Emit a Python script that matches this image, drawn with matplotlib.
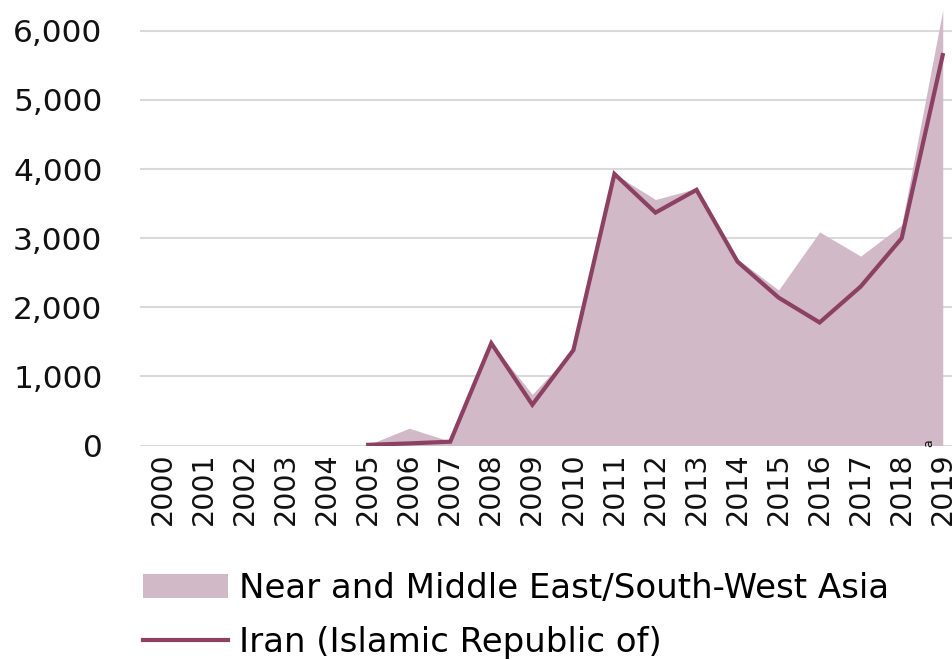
import matplotlib
matplotlib.use("Agg")
import matplotlib.pyplot as plt
import numpy as np

years = [str(y) for y in range(2000, 2020)]

# values start in 2005; earlier years have no data
region_years = years[5:]
region = [10, 250, 60, 1480, 740, 1380, 3930, 3560, 3720, 2700,
          2250, 3090, 2740, 3190, 6300]
iran = [10, 30, 55, 1480, 590, 1380, 3930, 3370, 3700, 2660,
        2140, 1780, 2300, 3000, 5650]

yticks = [0, 1000, 2000, 3000, 4000, 5000, 6000]

fill_color = "#d1b9c7"
line_color = "#8c4163"

fig = plt.figure(figsize=(9.53, 6.6), dpi=100)
ax = fig.add_axes([0.1469, 0.325, 0.8531, 0.675])

x_all = np.arange(len(years))
x_data = x_all[5:]

ax.fill_between(x_data, region, 0, color=fill_color, linewidth=0, zorder=2,
                label="Near and Middle East/South-West Asia")
ax.plot(x_data, iran, color=line_color, linewidth=3.0, zorder=3,
        solid_joinstyle="miter", label="Iran (Islamic Republic of)")

ax.set_xlim(-0.56, 19.25)
ax.set_ylim(0, 6447)
ax.set_yticks(yticks)
ax.set_yticklabels([f"{v:,}" for v in yticks], fontsize=22.5, color="#111111")
ax.set_xticks(x_all)
ax.set_xticklabels(years, rotation=90, fontsize=20.5, color="#111111")
ax.tick_params(axis="both", length=0)
ax.tick_params(axis="y", pad=27)
ax.tick_params(axis="x", pad=5)

ax.grid(axis="y", color="#d9d9d9", linewidth=1.5, zorder=0)
ax.set_axisbelow(True)
for s in ax.spines.values():
    s.set_visible(False)

# footnote marker on the last year
ax.annotate("a", xy=(x_all[-1], 0), xytext=(-10, 2), textcoords="offset points",
            rotation=90, fontsize=9, ha="center", va="center", color="#111111",
            annotation_clip=False, zorder=5)

fig.legend(loc="upper left", bbox_to_anchor=(0.150, 0.133), frameon=False,
           prop={"size": 24.5},
           handlelength=2.5, handleheight=0.7, handletextpad=0.32,
           labelspacing=0.6, borderaxespad=0, borderpad=0)

fig.savefig("out.png", dpi=100)
